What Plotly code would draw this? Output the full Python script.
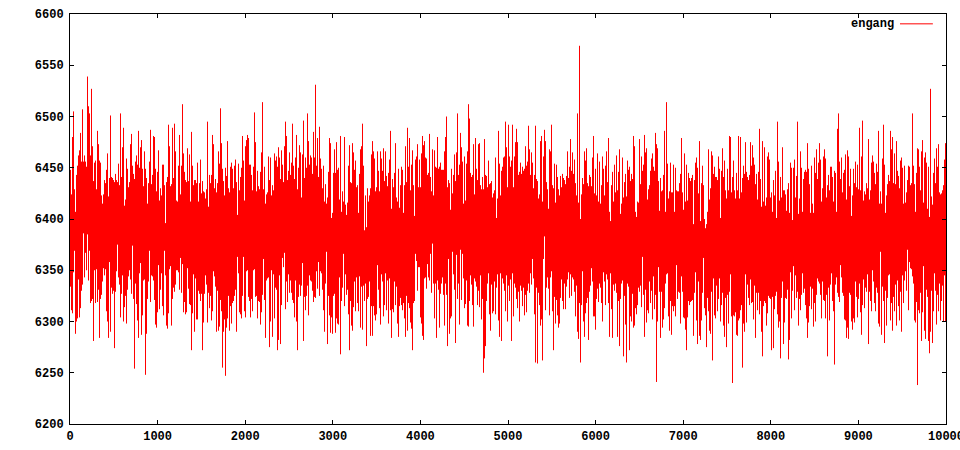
import plotly.graph_objects as go

# highest and lowest engang value seen in each pixel-wide bin of the run
x_max = 10000
n_bins = 876
x_ticks = [0, 1000, 2000, 3000, 4000, 5000, 6000, 7000, 8000, 9000, 10000]
y_ticks = [6200, 6250, 6300, 6350, 6400, 6450, 6500, 6550, 6600]

upper = [
    6448,6424,6480,6505,6429,6407,6443,6452,6462,6467,6484,6456,6507,6456,6462,6456,6451,6539,6510,6503,
    6462,6527,6471,6437,6455,6457,6429,6486,6473,6457,6455,6423,6415,6424,6438,6435,6448,6464,6422,6440,
    6501,6441,6440,6438,6436,6444,6438,6436,6454,6433,6503,6441,6470,6489,6413,6419,6459,6449,6431,6436,
    6473,6483,6452,6444,6439,6456,6462,6453,6486,6450,6470,6477,6449,6432,6466,6449,6440,6415,6435,6456,
    6487,6434,6443,6481,6480,6449,6427,6446,6467,6418,6430,6423,6453,6453,6433,6396,6436,6441,6492,6471,
    6432,6434,6489,6440,6493,6466,6418,6417,6452,6482,6424,6452,6512,6464,6446,6438,6436,6469,6437,6463,
    6417,6485,6452,6433,6438,6438,6435,6455,6417,6435,6458,6425,6437,6427,6426,6420,6429,6495,6412,6443,
    6435,6443,6482,6473,6430,6439,6426,6435,6466,6454,6508,6474,6449,6437,6423,6450,6442,6476,6430,6426,
    6451,6455,6449,6430,6452,6458,6436,6404,6454,6428,6441,6450,6481,6457,6418,6471,6477,6482,6479,6453,
    6453,6443,6428,6451,6504,6475,6427,6447,6432,6429,6446,6465,6514,6429,6451,6415,6424,6426,6461,6438,
    6460,6423,6433,6428,6464,6457,6461,6451,6470,6460,6439,6467,6453,6436,6471,6495,6481,6438,6447,
    6465,6443,6455,6493,6452,6439,6460,6482,6429,6450,6472,6465,6421,6463,6496,6440,6460,6450,6503,6476,
    6453,6462,6460,6444,6485,6460,6531,6452,6479,6441,6490,6459,6449,6430,6452,6417,6434,6415,6421,6446,
    6479,6474,6401,6406,6445,6468,6445,6475,6448,6450,6419,6481,6407,6427,6417,6480,6414,6404,6416,6452,
    6472,6436,6435,6474,6465,6448,6457,6431,6433,6406,6444,6468,6471,6493,6452,6389,6423,6392,6430,6417,
    6423,6430,6463,6476,6466,6459,6427,6431,6466,6447,6427,6466,6459,6447,6469,6437,6466,6442,6432,6445,
    6458,6486,6410,6439,6431,6445,6474,6421,6417,6449,6411,6433,6451,6448,6406,6433,6471,6436,6489,6451,
    6479,6428,6453,6467,6433,6403,6458,6461,6473,6431,6458,6431,6464,6481,6472,6476,6460,6459,6443,6445,
    6483,6441,6427,6468,6423,6467,6451,6450,6480,6449,6451,6455,6448,6448,6448,6466,6480,6500,6431,6438,
    6435,6409,6449,6425,6443,6463,6437,6465,6503,6443,6453,6484,6470,6456,6415,6461,6418,6454,6466,6512,
    6498,6445,6441,6443,6473,6424,6479,6449,6438,6473,6474,6433,6429,6441,6429,6478,6443,6442,6431,6457,
    6434,6435,6437,6421,6425,6428,6460,6401,6420,6486,6454,6423,6447,6451,6460,6461,6495,6470,6431,6492,6461,
    6451,6457,6492,6431,6461,6475,6488,6475,6443,6446,6455,6444,6451,6447,6449,6471,6452,6456,6491,6468,
    6443,6465,6455,6430,6443,6491,6439,6437,6420,6424,6476,6481,6417,6461,6487,6476,6436,6429,6410,6468,
    6466,6492,6433,6430,6454,6416,6453,6441,6429,6423,6442,6431,6444,6440,6438,6434,6442,6466,6440,6451,
    6478,6447,6465,6444,6458,6435,6423,6503,6416,6569,6400,6424,6440,6434,6466,6457,6469,6435,6432,6443,
    6441,6432,6460,6481,6425,6449,6423,6464,6417,6456,6415,6433,6461,6449,6423,6452,6466,6436,6479,6407,
    6398,6433,6446,6417,6453,6426,6462,6428,6446,6468,6405,6415,6460,6421,6436,6444,6422,6457,6448,6451,
    6437,6444,6439,6481,6471,6407,6402,6417,6416,6478,6434,6461,6447,6453,6482,6465,6469,6419,6429,6433,
    6447,6459,6464,6451,6447,6484,6473,6469,6437,6408,6440,6427,6428,6443,6486,6407,6514,6454,6420,6427,
    6455,6426,6426,6453,6407,6450,6428,6427,6427,6435,6444,6479,6426,6409,6464,6417,6453,6418,6445,6440,
    6437,6440,6443,6395,6438,6455,6460,6450,6425,6476,6398,6435,6452,6433,6400,6391,6395,6407,6468,6419,
    6430,6466,6462,6444,6451,6441,6441,6438,6461,6449,6401,6447,6469,6441,6457,6428,6420,6449,6428,6481,6480,6426,
    6441,6457,6428,6420,6445,6428,6481,6420,6480,6426,6440,6452,6444,6475,6446,6441,6438,6443,6475,6452,
    6472,6460,6453,6434,6444,6419,6446,6488,6439,6412,6476,6417,6470,6413,6421,6461,6465,6458,6421,6426,
    6407,6438,6423,6447,6401,6495,6456,6418,6441,6421,6470,6428,6428,6424,6408,6429,6435,6406,6455,6450,
    6399,6450,6458,6421,6442,6495,6405,6420,6466,6450,6407,6439,6446,6448,6446,6474,6449,6434,6406,6452,
    6415,6406,6460,6445,6468,6439,6455,6474,6458,6417,6430,6461,6468,6459,6421,6433,6443,6428,6451,6451,
    6441,6417,6447,6445,6407,6488,6503,6456,6439,6460,6426,6445,6448,6463,6419,6467,6461,6432,6449,6403,
    6423,6449,6435,6456,6431,6453,6429,6489,6428,6461,6496,6418,6427,6424,6435,6430,6478,6419,6428,6455,
    6462,6456,6445,6434,6454,6446,6486,6415,6427,6415,6459,6492,6453,6406,6423,6434,6443,6437,6486,6468,
    6480,6435,6464,6434,6476,6447,6442,6430,6457,6460,6450,6415,6452,6416,6426,
    6438,6452,6451,6433,6435,6503,6452,6434,6407,6445,6469,6468,6451,6428,6466,6477,6416,6460,6465,6455,
    6410,6451,6402,6527,6422,6414,6445,6459,6435,6469,6451,6473,6426,6424,6425,6428,6433,6458,6474,6420,
]

lower = [
    6334,6311,6308,6348,6369,6288,6300,6303,6341,6304,6313,6330,6336,6386,6343,6367,6350,6385,6340,6369,
    6318,6320,6322,6281,6350,6318,6351,6319,6331,6284,6322,6326,6339,6352,6345,6351,6310,6300,6284,6358,
    6290,6333,6327,6330,6274,6329,6349,6375,6343,6336,6304,6327,6345,6300,6314,6325,6298,6331,6344,6350,
    6341,6327,6374,6322,6254,6337,6317,6301,6284,6347,6357,6287,6306,6340,6341,6248,6288,6322,6339,6369,
    6319,6345,6344,6340,6321,6297,6294,6309,6355,6312,6331,6347,6315,6306,6369,6345,6296,6293,6308,6351,
    6354,6296,6322,6333,6329,6336,6350,6350,6348,6331,6362,6328,6356,6309,6319,6307,6309,6352,6332,6317,
    6316,6272,6308,6346,6290,6342,6302,6302,6330,6327,6320,6327,6272,6299,6327,6345,6336,6299,6328,6313,
    6325,6301,6310,6349,6344,6334,6290,6330,6291,6295,6321,6310,
    6255,6290,6302,6247,6294,6303,6325,6291,6315,6298,6318,6320,6325,6331,6290,6363,6347,6309,6307,6303,
    6325,6363,6310,6304,6349,6350,6324,6320,6304,6322,6310,
    6350,6351,6324,6325,6303,6320,6319,6297,6309,6326,6361,6321,6284,6340,6342,6343,6275,6300,6350,6285,
    6346,6303,6333,6331,6272,6282,6345,6278,6316,6362,6353,6367,6312,6339,6319,6346,6328,
    6340,6328,6321,6318,6304,6340,6300,6272,6324,6336,6325,6335,6357,6281,6324,6311,6325,6335,6306,6345,
    6340,6339,6330,6319,6324,6323,6349,6332,6358,6325,6349,6347,6331,6311,6290,6337,6368,6278,6325,6306,
    6289,6304,6288,6325,6327,6289,6303,6298,6297,6343,6268,6320,6333,6366,6315,6346,6326,6331,6307,6272,
    6320,6296,6291,6314,6339,6310,6343,6318,6310,6344,6294,6334,6292,6335,6320,6337,6276,6322,6324,6339,
    6286,6315,6286,6315,6306,6301,6307,6355,6331,6313,6297,6346,6339,6305,6316,6347,6311,6340,6298,6342,
    6311,6284,6312,6309,6339,6316,6334,6298,6285,6315,6323,6316,6311,6318,6303,6285,6325,6291,6318,6313,
    6299,6293,6272,6318,6320,6366,6359,6330,6353,6353,6304,6298,6286,6282,6342,6343,6332,6356,6343,6340,
    6366,6328,6376,6337,6303,6337,6284,6340,6331,6294,6327,6337,6343,6326,6296,6337,6326,6276,6361,6288,
    6303,6305,6368,6346,6331,6279,6365,6322,6337,6297,6370,6321,6366,6342,6313,6317,6340,6296,6295,6320,
    6345,6336,6316,6295,6342,6339,6334,6316,6330,6314,6345,6302,6322,6250,6264,6276,6320,6337,6347,6307,6291,6336,6308,6310,6339,
    6307,6333,6346,6301,6285,6347,6281,6342,6337,6330,6310,6345,6300,6335,6320,
    6341,6281,6347,6305,6337,6333,6322,6313,6329,6300,6335,6330,6315,6333,6306,6326,6309,6330,6337,6328,
    6347,6336,6361,6342,6307,6260,6333,6259,6328,6316,6296,6302,6262,6361,6383,6311,6333,6343,6332,6306,
    6343,6349,6310,6272,6324,6298,6321,6306,6294,6298,6323,6341,6320,6312,6337,6312,6334,6341,6348,6323,
    6346,6325,6343,6341,6329,6305,6335,6290,6283,6318,6260,6316,6349,6300,6285,6308,6318,6323,6282,6329,
    6335,6352,6339,6305,6305,6292,6322,6332,6319,6337,6333,6318,6300,6348,6339,6316,6346,6341,6318,6285,
    6347,6312,6284,6336,6330,6337,6328,6285,6320,6276,6322,6337,6340,6266,6325,6297,6260,6337,6334,6272,
    6305,6300,6327,6294,6296,6313,6307,6316,6333,6329,6335,6314,6363,6326,6285,6331,6299,6311,6308,6339,
    6318,6330,6302,6344,6312,6326,
    6241,6300,6353,6329,6284,6329,6294,6302,6313,6337,6346,6347,6305,6291,6320,6287,6315,6310,6315,6305,
    6355,6322,6329,6328,6298,6344,6329,6304,6303,6292,6272,6304,6320,6316,6319,6320,6321,6286,6328,6348,
    6301,6278,6339,6286,6282,6301,6328,6362,6313,6306,6275,6323,6310,6291,6288,6329,6262,6342,6306,6303,
    6335,6310,6322,6342,6300,6316,6328,6296,
    6285,6323,6275,6326,6298,6329,6346,6305,6240,
    6306,6305,6309,6287,6286,6301,6303,6311,6316,6255,6298,6290,6346,6299,6336,6323,6316,6341,6318,6319,
    6302,6335,6284,6328,6311,6328,6307,6320,6290,6266,6315,6320,6318,6296,6308,6325,6323,6322,6272,6324,
    6274,6312,6325,6329,6307,6294,6300,6264,6323,6339,6278,6299,6323,6322,6331,6263,6282,6348,6303,6330,
    6354,6311,6345,6323,6329,6296,6322,6311,6326,6347,6328,6332,6316,6303,6284,6299,6315,6334,6312,6332,
    6295,6318,6300,6326,6342,6339,6337,6326,6303,6339,6321,6320,6303,6326,6266,6333,6301,6336,6347,6320,
    6310,6258,6336,6343,6328,6324,6319,6355,6343,6328,6325,6302,6301,6284,6294,6283,6328,6326,6300,6292,
    6303,6299,6339,6324,6304,6322,6337,6309,6287,6316,6341,6313,6333,6329,6346,6278,6329,6320,6310,6350,
    6339,6318,6310,6333,6328,6298,6295,6368,6287,6334,6320,6279,6330,6296,6323,6345,6346,6301,6318,6291,
    6324,6310,6336,6296,6340,6315,6301,6329,6290,6345,6318,
    6340,6349,6330,6370,6311,6358,6352,6351,6344,6337,6301,6299,6319,6238,6311,6308,6328,6281,6309,6354,
    6291,6283,6331,6324,6281,6269,6290,6330,6279,6310,6347,6330,6297,6326,6310,6337,6301,6320,6335,6300,6345,6300,
]

FONT = "Liberation Mono"
step = x_max / n_bins

# one vertical stroke per bin, broken apart with None
xs, ys = [], []
for i, (hi, lo) in enumerate(zip(upper, lower)):
    xc = (i + 0.5) * step
    xs += [xc, xc, None]
    ys += [hi, lo, None]

fig = go.Figure()
fig.add_trace(
    go.Scatter(
        x=xs,
        y=ys,
        mode="lines",
        line=dict(color="#ff0000", width=1),
        name="engang",
        showlegend=False,
        hoverinfo="skip",
    )
)

axis_style = dict(
    automargin=False,
    showline=True,
    linecolor="black",
    linewidth=1,
    mirror="ticks",
    ticks="inside",
    ticklen=4,
    tickwidth=1,
    tickcolor="black",
    showgrid=False,
    zeroline=False,
    ticklabeloverflow="allow",
    tickfont=dict(family=FONT, size=12, color="black", weight="bold"),
)
fig.update_xaxes(
    range=[0, x_max], tickvals=x_ticks, ticktext=[str(t) for t in x_ticks],
    ticklabelstandoff=1, **axis_style,
)
fig.update_yaxes(
    range=[6200, 6600], tickvals=y_ticks, ticktext=[str(t) for t in y_ticks],
    ticklabelstandoff=3, **axis_style,
)

fig.update_layout(
    width=960,
    height=450,
    margin=dict(l=70, r=14, t=14, b=26),
    paper_bgcolor="white",
    plot_bgcolor="white",
    annotations=[
        dict(
            x=0.9425, y=0.975, xref="paper", yref="paper", text="engang", showarrow=False,
            xanchor="right", yanchor="middle",
            font=dict(family=FONT, size=12, color="black", weight="bold"),
        )
    ],
)
# key sample sits right of its label, as gnuplot puts it
fig.add_shape(
    type="line", xref="paper", yref="paper", x0=0.9475, x1=0.985, y0=0.976, y1=0.976,
    line=dict(color="#ff0000", width=1),
)

fig.write_html(
    "out.html",
    config=dict(displayModeBar=False),
    post_script="document.body.style.margin='0';",
)
